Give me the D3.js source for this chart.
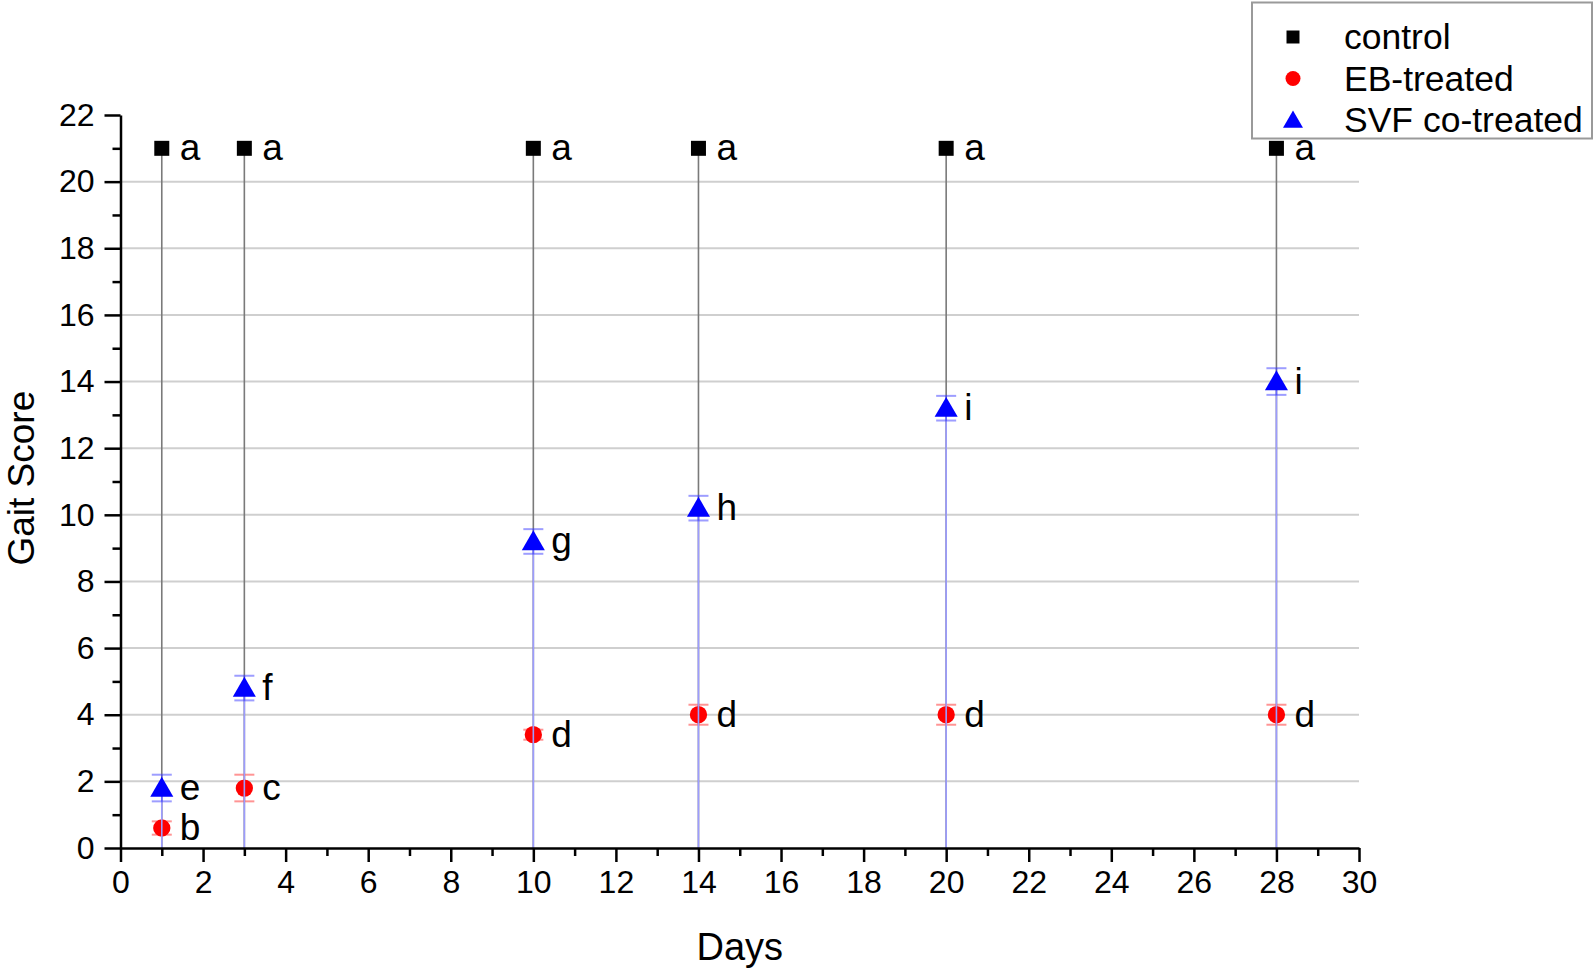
<!DOCTYPE html>
<html>
<head>
<meta charset="utf-8">
<script src="https://cdn.jsdelivr.net/npm/d3@7"></script>
<style>
  body { margin: 0; background: #fff; }
  text { font-family: Arial, "Liberation Sans", sans-serif; }
</style>
</head>
<body>
<div id="chart"></div>
<script>
// Data
var days = [1, 3, 10, 14, 20, 28];
var controlScore = [21, 21, 21, 21, 21, 21];
var controlErr = [0, 0, 0, 0, 0, 0];
var controlLetters = ["a", "a", "a", "a", "a", "a"];
var ebScore = [0.6, 1.8, 3.4, 4.0, 4.0, 4.0];
var ebErr = [0.2, 0.4, 0.15, 0.3, 0.3, 0.3];
var ebLetters = ["b", "c", "d", "d", "d", "d"];
var svfScore = [1.8, 4.8, 9.2, 10.2, 13.2, 14.0];
var svfErr = [0.4, 0.37, 0.37, 0.37, 0.37, 0.4];
var svfLetters = ["e", "f", "g", "h", "i", "i"];
var seriesNames = ["control", "EB-treated", "SVF co-treated"];
var xTicks = d3.range(0, 31, 2);
var yTicks = d3.range(0, 23, 2);

const W = 1594, H = 970;
const margin = {left: 120.5, right: 235, top: 115, bottom: 122};

var svg = d3.select("#chart").append("svg")
  .attr("width", W).attr("height", H);

const xScale = d3.scaleLinear().domain([0, 30]).range([margin.left, W - margin.right]);
const yScale = d3.scaleLinear().domain([0, 22]).range([H - margin.bottom, margin.top]);

// Horizontal grid lines
svg.append("g").selectAll("line")
  .data(yTicks.filter(function(d) { return d > 0 && d < 22; }))
  .join("line")
  .attr("x1", xScale(0)).attr("x2", xScale(30))
  .attr("y1", function(d) { return yScale(d); })
  .attr("y2", function(d) { return yScale(d); })
  .attr("stroke", "#cfcfcf").attr("stroke-width", 2);

// Series definitions (EB drop lines are hidden under the blue ones in the figure)
var series = [
  {name: seriesNames[0], y: controlScore, err: controlErr, letters: controlLetters,
   color: "#000", drop: "#7a7a7a", errColor: "#000", shape: d3.symbolSquare, size: 225},
  {name: seriesNames[1], y: ebScore, err: ebErr, letters: ebLetters,
   color: "#ff0000", drop: null, errColor: "rgba(255,60,60,0.55)", shape: d3.symbolCircle, size: 235},
  {name: seriesNames[2], y: svfScore, err: svfErr, letters: svfLetters,
   color: "#0000ff", drop: "#9c9cff", errColor: "rgba(60,60,255,0.5)", shape: d3.symbolTriangle, size: 230}
];

series.forEach(function(s) {
  var g = svg.append("g");
  var pts = days.map(function(d, i) { return {x: d, y: s.y[i], e: s.err[i], l: s.letters[i]}; });

  // Drop lines to the x axis
  if (s.drop) {
    g.selectAll(".drop").data(pts).join("line")
      .attr("x1", function(d) { return xScale(d.x); })
      .attr("x2", function(d) { return xScale(d.x); })
      .attr("y1", function(d) { return yScale(d.y); })
      .attr("y2", yScale(0))
      .attr("stroke", s.drop).attr("stroke-width", 1.6);
  }

  // Error bars
  var eb = g.selectAll(".err").data(pts.filter(function(d) { return d.e > 0; })).join("g");
  eb.append("line")
    .attr("x1", function(d) { return xScale(d.x); })
    .attr("x2", function(d) { return xScale(d.x); })
    .attr("y1", function(d) { return yScale(d.y + d.e); })
    .attr("y2", function(d) { return yScale(d.y - d.e); })
    .attr("stroke", s.errColor).attr("stroke-width", 1.6);
  [1, -1].forEach(function(sign) {
    eb.append("line")
      .attr("x1", function(d) { return xScale(d.x) - 10; })
      .attr("x2", function(d) { return xScale(d.x) + 10; })
      .attr("y1", function(d) { return yScale(d.y + sign * d.e); })
      .attr("y2", function(d) { return yScale(d.y + sign * d.e); })
      .attr("stroke", s.errColor).attr("stroke-width", 2);
  });

  // Markers
  g.selectAll(".pt").data(pts).join("path")
    .attr("transform", function(d) { return "translate(" + xScale(d.x) + "," + (yScale(d.y) + (s.shape === d3.symbolTriangle ? 2 : 0)) + ")"; })
    .attr("d", d3.symbol().type(s.shape).size(s.size))
    .attr("fill", s.color);

  // Significance letters
  g.selectAll(".lab").data(pts).join("text")
    .attr("x", function(d) { return xScale(d.x) + 18; })
    .attr("y", function(d) { return yScale(d.y) + 12; })
    .attr("font-size", 37)
    .attr("fill", "#000")
    .text(function(d) { return d.l; });
});

// Axes
var xAxis = svg.append("g").attr("transform", "translate(0," + yScale(0) + ")");
xAxis.append("g")
  .call(d3.axisBottom(xScale).tickValues(d3.range(1, 30, 2)).tickSize(8).tickFormat(""))
  .call(function(g) { g.select(".domain").remove(); g.selectAll("line").attr("stroke-width", 2.5); });
xAxis.append("g")
  .call(d3.axisBottom(xScale).tickValues(xTicks).tickSize(14).tickSizeOuter(0).tickPadding(8))
  .call(function(g) {
    g.select(".domain").attr("stroke-width", 2.5);
    g.selectAll("line").attr("stroke-width", 2.5);
    g.selectAll("text").attr("font-size", 32).attr("fill", "#000")
      .attr("font-family", "Arial, 'Liberation Sans', sans-serif");
  });

var yAxis = svg.append("g").attr("transform", "translate(" + xScale(0) + ",0)");
yAxis.append("g")
  .call(d3.axisLeft(yScale).tickValues(d3.range(1, 22, 2)).tickSize(8).tickFormat(""))
  .call(function(g) { g.select(".domain").remove(); g.selectAll("line").attr("stroke-width", 2.5); });
yAxis.append("g")
  .call(d3.axisLeft(yScale).tickValues(yTicks).tickSize(16).tickSizeOuter(0).tickPadding(10))
  .call(function(g) {
    g.select(".domain").attr("stroke-width", 2.5);
    g.selectAll("line").attr("stroke-width", 2.5);
    g.selectAll("text").attr("font-size", 32).attr("fill", "#000")
      .attr("font-family", "Arial, 'Liberation Sans', sans-serif");
  });

// Axis titles
svg.append("text")
  .attr("x", xScale(15)).attr("y", 960)
  .attr("text-anchor", "middle").attr("font-size", 38)
  .text("Days");
svg.append("text")
  .attr("transform", "translate(34," + yScale(11.1) + ") rotate(-90)")
  .attr("text-anchor", "middle").attr("font-size", 37)
  .text("Gait Score");

// Legend
var legend = svg.append("g");
legend.append("rect")
  .attr("x", 1252).attr("y", 2.5).attr("width", 340).attr("height", 136)
  .attr("fill", "#fff").attr("stroke", "#9a9a9a").attr("stroke-width", 2);
series.forEach(function(s, i) {
  var yy = 37 + i * 41.5;
  legend.append("path")
    .attr("transform", "translate(1293," + (yy + (s.shape === d3.symbolTriangle ? 2 : 0)) + ")")
    .attr("d", d3.symbol().type(s.shape).size(s.size * 0.75))
    .attr("fill", s.color);
  legend.append("text")
    .attr("x", 1344).attr("y", yy + 12)
    .attr("font-size", 35.5)
    .text(s.name);
});
</script>
</body>
</html>
